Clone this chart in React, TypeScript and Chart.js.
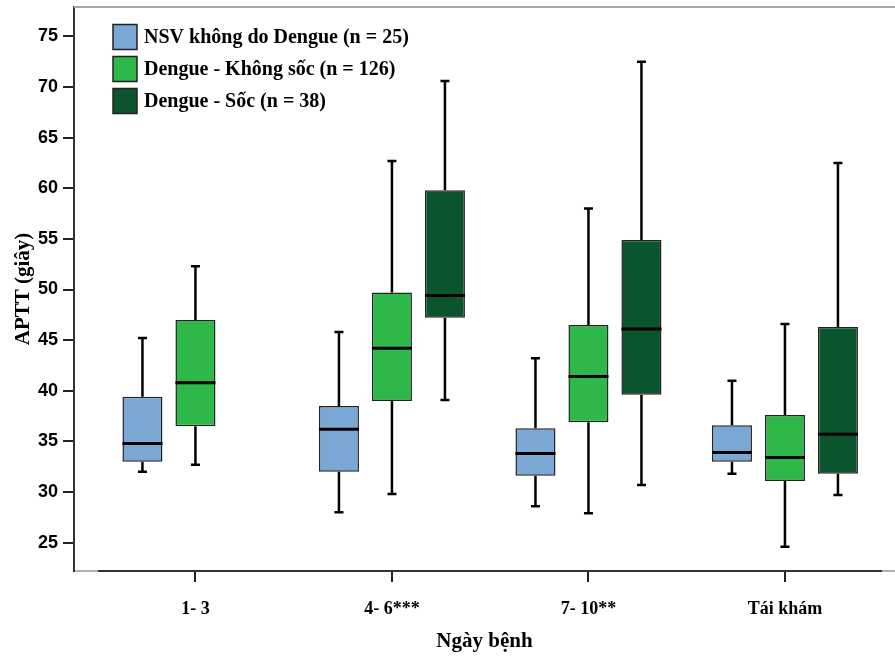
import React, { useEffect, useRef } from 'react';
import { Chart, registerables } from 'chart.js';
Chart.register(...registerables);

// ---- data ----
const categories = ['1- 3', '4- 6***', '7- 10**', 'Tái khám'];
const yTicks = [25, 30, 35, 40, 45, 50, 55, 60, 65, 70, 75];
const seriesNames = ['NSV không do Dengue (n = 25)', 'Dengue - Không sốc (n = 126)', 'Dengue - Sốc (n = 38)'];
const seriesColors = ['#7BA7D5', '#2EB84A', '#0B552E'];

const nsvMin = [32.0, 28.0, 28.6, 31.8];
const nsvQ1 = [33.0, 32.0, 31.6, 33.0];
const nsvMed = [34.8, 36.2, 33.8, 33.9];
const nsvQ3 = [39.4, 38.5, 36.3, 36.6];
const nsvMax = [45.2, 45.8, 43.2, 41.0];

const ksMin = [32.7, 29.8, 27.9, 24.6];
const ksQ1 = [36.5, 39.0, 36.9, 31.1];
const ksMed = [40.8, 44.2, 41.4, 33.4];
const ksQ3 = [47.0, 49.7, 46.5, 37.6];
const ksMax = [52.3, 62.7, 58.0, 46.6];

const sMin = [null, 39.1, 30.7, 29.7];
const sQ1 = [null, 47.2, 39.6, 31.8];
const sMed = [null, 49.4, 46.1, 35.7];
const sQ3 = [null, 59.8, 54.9, 46.3];
const sMax = [null, 70.6, 72.5, 62.5];

const yTitle = 'APTT (giây)';
const xTitle = 'Ngày bệnh';

export default function App() {
  const ref = useRef<HTMLCanvasElement>(null);

  useEffect(() => {
    document.body.style.margin = '0';
    const series = [
      { min: nsvMin, q1: nsvQ1, med: nsvMed, q3: nsvQ3, max: nsvMax },
      { min: ksMin, q1: ksQ1, med: ksMed, q3: ksQ3, max: ksMax },
      { min: sMin, q1: sQ1, med: sMed, q3: sQ3, max: sMax },
    ];

    const datasets = series.map((s, si) => ({
      label: seriesNames[si],
      backgroundColor: seriesColors[si],
      borderColor: '#222',
      borderWidth: 1.5,
      borderSkipped: false as const,
      categoryPercentage: 0.809,
      barPercentage: 0.755,
      data: categories
        .map((_, i) => (s.q1[i] == null ? null : { x: i + 1, y: [s.q1[i] as number, s.q3[i] as number] }))
        .filter((d) => d !== null) as any[],
    }));

    const getEls = (chart: any, di: number) => {
      const meta = chart.getDatasetMeta(di);
      return meta.data.map((el: any, j: number) => {
        const ci = chart.data.datasets[di].data[j].x - 1;
        const p = el.getProps(['x', 'width'], true);
        return { x: p.x, w: p.width, ci };
      });
    };

    const boxPlugin = {
      id: 'boxWhiskers',
      beforeDatasetsDraw(chart: any) {
        const ctx = chart.ctx;
        const ys = chart.scales.y;
        ctx.save();
        ctx.strokeStyle = '#000';
        ctx.lineWidth = 2.5;
        series.forEach((s, di) => {
          getEls(chart, di).forEach(({ x, ci }: any) => {
            const yMin = ys.getPixelForValue(s.min[ci]);
            const yMax = ys.getPixelForValue(s.max[ci]);
            const yQ1 = ys.getPixelForValue(s.q1[ci]);
            const yQ3 = ys.getPixelForValue(s.q3[ci]);
            ctx.beginPath();
            ctx.moveTo(x, yQ3);
            ctx.lineTo(x, yMax);
            ctx.moveTo(x, yQ1);
            ctx.lineTo(x, yMin);
            ctx.moveTo(x - 4.5, yMax);
            ctx.lineTo(x + 4.5, yMax);
            ctx.moveTo(x - 4.5, yMin);
            ctx.lineTo(x + 4.5, yMin);
            ctx.stroke();
          });
        });
        ctx.restore();
      },
      afterDatasetsDraw(chart: any) {
        const ctx = chart.ctx;
        const ys = chart.scales.y;
        ctx.save();
        ctx.strokeStyle = '#000';
        ctx.lineWidth = 3;
        series.forEach((s, di) => {
          getEls(chart, di).forEach(({ x, w, ci }: any) => {
            const yMed = ys.getPixelForValue(s.med[ci]);
            ctx.beginPath();
            ctx.moveTo(x - w / 2, yMed);
            ctx.lineTo(x + w / 2, yMed);
            ctx.stroke();
          });
        });
        ctx.restore();
      },
      afterDraw(chart: any) {
        const ctx = chart.ctx;
        const a = chart.chartArea;
        ctx.save();
        // top frame line
        ctx.strokeStyle = '#a8a8a8';
        ctx.lineWidth = 2;
        ctx.beginPath();
        ctx.moveTo(a.left, a.top);
        ctx.lineTo(a.right, a.top);
        ctx.stroke();
        // lighter ends of bottom axis
        ctx.strokeStyle = '#b0b0b0';
        ctx.beginPath();
        ctx.moveTo(a.left + 1, a.bottom);
        ctx.lineTo(a.left + 24, a.bottom);
        ctx.moveTo(a.right - 13, a.bottom);
        ctx.lineTo(a.right, a.bottom);
        ctx.stroke();
        // legend
        const lx = a.left + 39;
        const ly0 = a.top + 17.5;
        ctx.font = 'bold 20px "Liberation Serif", "Times New Roman", serif';
        ctx.textBaseline = 'middle';
        ctx.textAlign = 'left';
        seriesNames.forEach((name, i) => {
          const y = ly0 + i * 32;
          ctx.fillStyle = seriesColors[i];
          ctx.fillRect(lx, y, 24, 25);
          ctx.strokeStyle = '#222';
          ctx.lineWidth = 1.5;
          ctx.strokeRect(lx, y, 24, 25);
          ctx.fillStyle = '#000';
          ctx.fillText(name, lx + 31, y + 13);
        });
        ctx.restore();
      },
    };

    const chart = new Chart(ref.current!, {
      type: 'bar',
      data: { datasets },
      options: {
        animation: false,
        responsive: false,
        maintainAspectRatio: false,
        layout: { padding: { top: 7, right: 0, left: 0, bottom: 0 } },
        plugins: { legend: { display: false }, tooltip: { enabled: false } },
        scales: {
          x: {
            type: 'linear',
            offset: false,
            min: 0.382,
            max: 4.56,
            afterBuildTicks: (scale: any) => {
              scale.ticks = categories.map((_, i) => ({ value: i + 1 }));
            },
            afterFit: (scale: any) => {
              scale.height = 87;
              scale.paddingLeft = 0;
              scale.paddingRight = 0;
            },
            grid: { offset: false, drawOnChartArea: false, drawTicks: true, tickLength: 11, color: '#222', lineWidth: 2 },
            border: { display: true, color: '#333', width: 2 },
            ticks: {
              autoSkip: false,
              maxRotation: 0,
              padding: 17,
              color: '#000',
              font: { family: '"Liberation Serif", "Times New Roman", serif', size: 18, weight: 'bold' },
              callback: (v: any) => categories[Math.round(v) - 1] ?? '',
            },
            title: {
              display: true,
              text: xTitle,
              color: '#000',
              font: { family: '"Liberation Serif", "Times New Roman", serif', size: 21, weight: 'bold' },
              padding: { top: 0, bottom: 4 },
            },
          },
          y: {
            type: 'linear',
            min: 22.2,
            max: 77.9,
            afterBuildTicks: (scale: any) => {
              scale.ticks = yTicks.map((v) => ({ value: v }));
            },
            afterFit: (scale: any) => {
              scale.width = 74;
              scale.paddingTop = 0;
              scale.paddingBottom = 0;
            },
            grid: { drawOnChartArea: false, drawTicks: true, tickLength: 11, color: '#222', lineWidth: 2 },
            border: { display: true, color: '#333', width: 2 },
            ticks: {
              padding: 5,
              color: '#000',
              font: { family: '"Liberation Sans", Arial, sans-serif', size: 18, weight: 'bold' },
            },
            title: {
              display: true,
              text: yTitle,
              color: '#000',
              font: { family: '"Liberation Serif", "Times New Roman", serif', size: 21, weight: 'bold' },
              padding: { top: 11, bottom: 0 },
            },
          },
        },
      } as any,
      plugins: [boxPlugin],
    });
    return () => chart.destroy();
  }, []);

  return (
    <div style={{ width: 895, height: 658, background: '#fff' }}>
      <canvas ref={ref} width={895} height={658} style={{ display: 'block' }} />
    </div>
  );
}
